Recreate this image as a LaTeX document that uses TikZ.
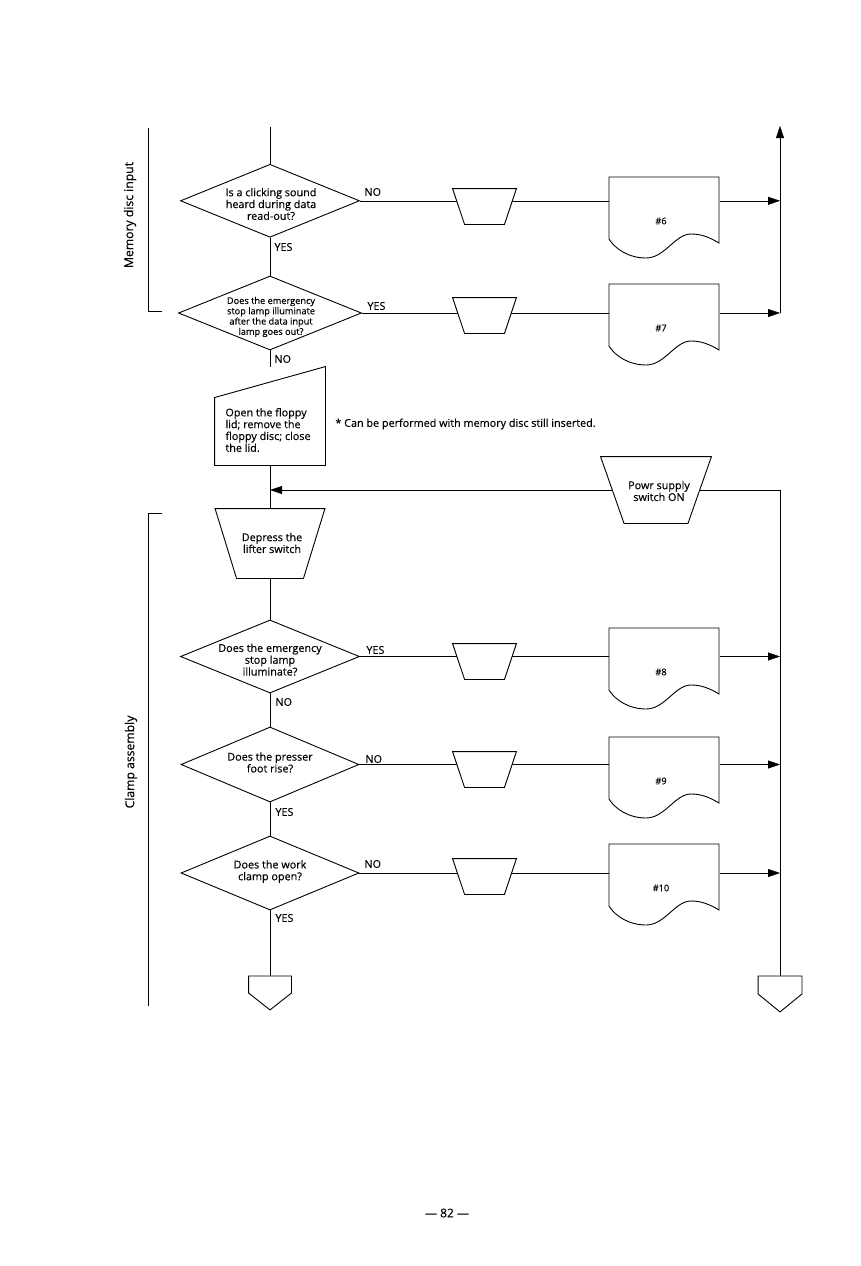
\documentclass[tikz,border=0pt]{standalone}
\usepackage{fontspec}
\setmainfont{Open Sans}[FakeBold=0.3]
\usetikzlibrary{arrows.meta,shapes.geometric,backgrounds}
\tikzset{
  dia/.style={draw,fill=white,diamond,inner sep=0pt},
  qtext/.style={align=center,inner sep=0pt,font=\fontsize{10.8}{11.8}\selectfont},
  qsmall/.style={align=center,inner sep=0pt,font=\fontsize{9.2}{10.3}\selectfont},
  yn/.style={anchor=west,inner sep=0pt,font=\fontsize{10.8}{12}\selectfont},
  doclbl/.style={inner sep=0pt,font=\fontsize{9.2}{10}\selectfont},
  side/.style={inner sep=0pt,font=\fontsize{12.2}{14}\selectfont},
  arr/.style={-{Triangle[length=12pt,width=8pt]}},
  hold/.style={inner sep=0pt,draw=none}
}
% name, cx, cy, top width, height, inset of bottom corners
\newcommand{\trapbox}[6]{%
  \node[hold,minimum width=#4pt,minimum height=#5pt] (#1) at (#2,#3) {};
  \draw[fill=white] (#1.north west) -- (#1.north east) -- ([xshift=-#6pt]#1.south east) -- ([xshift=#6pt]#1.south west) -- cycle;}
\newcommand{\docbox}[4]{%
  \node[hold,minimum width=110pt,minimum height=66pt,anchor=north west] (#1) at (#2,#3) {};
  \begin{scope}[shift={(#2,#3)}]
    \draw[fill=white] (0,0) -- (110,0) -- (110,66) .. controls (100,60) and (92,57) .. (82,57) .. controls (66,57) and (56,81) .. (37,81) .. controls (20,81) and (6,72) .. (0,62) -- cycle;
    \node[doclbl] at (52,44) {#4};
  \end{scope}}
\begin{document}
\begin{tikzpicture}[x=1pt,y=-1pt,line width=0.9pt]
\useasboundingbox (0,0) rectangle (860,1266);

% side brackets and labels
\draw (148,128) -- (148,311) -- (162,311);
\node[side,rotate=90] at (130,215) {Memory disc input};
\draw (162,513) -- (148,513) -- (148,1006);
\node[side,rotate=90] at (131,762) {Clamp assembly};

% main column
\coordinate (top) at (270,127);
\node[dia,minimum width=179pt,minimum height=73pt] (d1) at (270,200.8) {};
\node[qtext] at (271,204) {Is a clicking sound\\heard during data\\read-out?};
\node[dia,minimum width=183pt,minimum height=74pt] (d2) at (270,313) {};
\node[qsmall] at (271,317) {Does the emergency\\stop lamp illuminate\\after the data input\\lamp goes out?};

\node[hold,minimum width=110pt,minimum height=98pt] (manual) at (270,416) {};
\draw[fill=white] (manual.south west) -- (manual.south east) -- (manual.north east) -- ([yshift=-31pt]manual.north west) -- cycle;
\node[qtext,align=left,anchor=west] at (225,430) {Open the floppy\\lid; remove the\\floppy disc; close\\the lid.};
\node[qtext,anchor=west] (note) at (335,424) {* Can be performed with memory disc still inserted.};

\trapbox{dep}{270}{543.5}{109}{69}{21.5}
\node[qtext] at (272,543) {Depress the\\lifter switch};

\trapbox{powr}{656}{490}{110}{66}{23.5}
\node[qtext] at (659,491) {Powr supply\\switch ON};

\node[dia,minimum width=179pt,minimum height=73pt] (d3) at (270,656.5) {};
\node[qtext] at (270,659.7) {Does the emergency\\stop lamp\\illuminate?};
\node[dia,minimum width=178pt,minimum height=75pt] (d4) at (270,764.5) {};
\node[qtext] at (270,762.5) {Does the presser\\foot rise?};
\node[dia,minimum width=178pt,minimum height=74pt] (d5) at (270,873) {};
\node[qtext] at (270,871.5) {Does the work\\clamp open?};

% off-page connectors
\node[hold,minimum width=42pt,minimum height=33pt,anchor=north] (offL) at (270,976) {};
\draw[fill=white] (offL.north west) -- (offL.north east) -- ([yshift=-17pt]offL.north east) -- (offL.south) -- ([yshift=-17pt]offL.north west) -- cycle;
\node[hold,minimum width=43pt,minimum height=35pt,anchor=north] (offR) at (780,976) {};
\draw[fill=white] (offR.north west) -- (offR.north east) -- ([yshift=-18pt]offR.north east) -- (offR.south) -- ([yshift=-18pt]offR.north west) -- cycle;

% row shapes
\trapbox{t1}{484.5}{206.5}{63}{35}{12}
\trapbox{t2}{484.5}{315.5}{63}{35}{12}
\trapbox{t3}{484.5}{661.5}{63}{35}{12}
\trapbox{t4}{484.5}{769.5}{63}{35}{12}
\trapbox{t5}{484.5}{876.5}{63}{35}{12}
\docbox{doc1}{609}{177}{\#6}
\docbox{doc2}{609}{284}{\#7}
\docbox{doc3}{609}{628}{\#8}
\docbox{doc4}{609}{737}{\#9}
\docbox{doc5}{609}{844}{\#10}

\coordinate (rbar) at (780,0);
\coordinate (rtop) at (780,126);

% branch labels
\node[yn] at (364,192) {NO};
\node[yn] at (367,306) {YES};
\node[yn] at (274,247) {YES};
\node[yn] at (274,359) {NO};
\node[yn] at (366,650) {YES};
\node[yn] at (275,702) {NO};
\node[yn] at (365,759) {NO};
\node[yn] at (275,812) {YES};
\node[yn] at (364,864) {NO};
\node[yn] at (275,918) {YES};

\node[inner sep=0pt,font=\fontsize{12}{14}\selectfont] (page) at (447,1213) {--- 82 ---};

% connectors
\begin{scope}[on background layer]
\draw (top) -- (d1.north);
\draw (d1.south) -- (d2.north);
\draw (d2.south) -- (manual.north);
\draw (manual.south) -- (dep.north);
\draw (dep.south) -- (d3.north);
\draw (d3.south) -- (d4.north);
\draw (d4.south) -- (d5.north);
\draw (d5.south) -- (offL.north);
\draw[arr] (powr.center) -- (powr.center -| manual.south);
\draw (powr.center) -| (offR.north);
\draw (d1.east) -- (d1.east -| doc1.west);
\draw (d2.east) -- (d2.east -| doc2.west);
\draw (d3.east) -- (d3.east -| doc3.west);
\draw (d4.east) -- (d4.east -| doc4.west);
\draw (d5.east) -- (d5.east -| doc5.west);
\draw[arr] (d1.east -| doc1.east) -- (d1.east -| rbar);
\draw[arr] (d2.east -| doc2.east) -- (d2.east -| rbar);
\draw[arr] (d3.east -| doc3.east) -- (d3.east -| rbar);
\draw[arr] (d4.east -| doc4.east) -- (d4.east -| rbar);
\draw[arr] (d5.east -| doc5.east) -- (d5.east -| rbar);
\draw[arr] (d2.east -| rbar) -- (rtop);
\end{scope}
\end{tikzpicture}
\end{document}
